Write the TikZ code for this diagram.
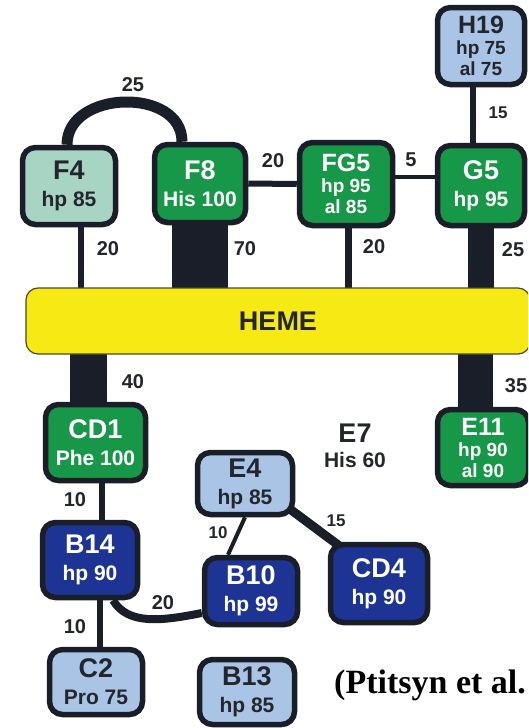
\documentclass[tikz,border=0pt]{standalone}
\usepackage{fontspec}
\setsansfont{Liberation Sans}
\newfontfamily\citefont{Liberation Serif}
\usetikzlibrary{backgrounds}

\definecolor{edgecol}{RGB}{26,30,40}
\definecolor{hbgreen}{RGB}{22,152,72}
\definecolor{paleteal}{RGB}{168,212,196}
\definecolor{paleblue}{RGB}{170,196,230}
\definecolor{deepblue}{RGB}{30,52,148}
\definecolor{hemeyellow}{RGB}{247,233,20}
\definecolor{inkgray}{RGB}{35,38,45}

\newcommand{\hname}[1]{{\fontsize{27}{27}\selectfont #1}}
\newcommand{\hsmall}[1]{{\fontsize{25}{25}\selectfont #1}}

\begin{document}
\begin{tikzpicture}[x=1pt,y=-1pt,
        box/.style={draw=edgecol,line width=5.5pt,rounded corners=13pt,align=center,inner sep=0pt,
            font=\sffamily\bfseries\fontsize{21}{27}\selectfont},
        tall/.style={font=\sffamily\bfseries\fontsize{19}{21}\selectfont},
        greenbox/.style={box,fill=hbgreen,text=white},
        tealbox/.style={box,fill=paleteal,text=inkgray},
        palebox/.style={box,fill=paleblue,text=inkgray},
        bluebox/.style={box,fill=deepblue,text=white},
        link/.style={draw=edgecol,line width=#1},
        num/.style={font=\sffamily\bfseries\fontsize{20}{20}\selectfont,text=inkgray,inner sep=0pt},
        smallnum/.style={num,font=\sffamily\bfseries\fontsize{17}{17}\selectfont}]
        \useasboundingbox (0,0) rectangle (528,728);
        \clip (0,0) rectangle (528,728);

        % heme and the contacts above it
        \node[draw=edgecol!80!yellow,line width=1.2pt,fill=hemeyellow,rounded corners=12pt,
            minimum width=504pt,minimum height=66pt,text=inkgray,
            font=\sffamily\bfseries\fontsize{27}{27}\selectfont] (heme) at (278,321) {HEME};

        \node[tealbox,minimum width=93pt,minimum height=77pt] (F4) at (69,186) {\hname{F4}\\hp 85};
        \node[greenbox,minimum width=91pt,minimum height=78pt] (F8) at (200,183.5) {\hname{F8}\\His 100};
        \node[greenbox,tall,minimum width=93pt,minimum height=83pt] (FG5) at (346,184) {\hsmall{FG5}\\hp 95\\al 85};
        \node[greenbox,minimum width=87pt,minimum height=80pt] (G5) at (481,185.5) {\hname{G5}\\hp 95};
        \node[palebox,tall,minimum width=87pt,minimum height=77pt] (H19) at (481,46) {\hsmall{H19}\\hp 75\\al 75};

        % below the heme
        \node[greenbox,minimum width=100pt,minimum height=76pt] (CD1) at (95.5,442.5) {\hname{CD1}\\Phe 100};
        \node[greenbox,tall,minimum width=91pt,minimum height=76pt] (E11) at (483,447.5) {\hsmall{E11}\\hp 90\\al 90};
        \node[bluebox,minimum width=95pt,minimum height=75pt] (B14) at (90,560) {\hname{B14}\\hp 90};
        \node[palebox,minimum width=93pt,minimum height=65pt] (C2) at (96,682) {\hname{C2}\\Pro 75};
        \node[palebox,minimum width=95pt,minimum height=62pt] (E4) at (245,483.5) {\hname{E4}\\hp 85};
        \node[bluebox,minimum width=93pt,minimum height=67pt] (B10) at (251,591) {\hname{B10}\\hp 99};
        \node[bluebox,minimum width=97pt,minimum height=78pt] (CD4) at (379,583.5) {\hname{CD4}\\hp 90};
        \node[palebox,minimum width=95pt,minimum height=65pt] (B13) at (247,692) {\hname{B13}\\hp 85};

        \node[align=center,inner sep=0pt,text=inkgray,
            font=\sffamily\bfseries\fontsize{21}{25}\selectfont] (E7) at (355,446) {\hname{E7}\\His 60};

        \begin{scope}[on background layer]
            \draw[link=11pt] ([xshift=-2pt]F4.north) .. controls +(0,-55) and +(0,-55) .. ([xshift=-18pt]F8.north);
            \draw[link=6pt] ([xshift=12pt]F4.south) -- ([xshift=12pt]F4.south |- heme.center);
            \draw[link=56pt] (F8.south) -- (F8.south |- heme.center);
            \draw[link=6pt] (F8) -- (FG5);
            \draw[link=4pt] ([yshift=7pt]FG5.center) -- ([yshift=7pt]FG5.center -| G5.center);
            \draw[link=7pt] ([xshift=2pt]FG5.south) -- ([xshift=2pt]FG5.south |- heme.center);
            \draw[link=26pt] (G5.south) -- (G5.south |- heme.center);
            \draw[link=6pt] ([xshift=-8pt]H19.south) -- ([xshift=-8pt]G5.north);
            \draw[link=37pt] ([xshift=-7pt]CD1.north) -- ([xshift=-7pt]CD1.north |- heme.center);
            \draw[link=35pt] ([xshift=-8pt]E11.north) -- ([xshift=-8pt]E11.north |- heme.center);
            \draw[link=6pt] ([xshift=6pt]CD1.south) -- ([xshift=6pt]CD1.south |- B14.center);
            \draw[link=6pt] ([xshift=10pt]B14.south) -- ([xshift=10pt]B14.south |- C2.center);
            \draw[link=8pt] ([xshift=23pt]B14.south) .. controls +(15,25) and +(-40,8) .. ([yshift=-22pt]B10.west);
            \draw[link=4pt] (E4.south) -- ([xshift=-23pt]B10.north);
            \draw[link=9pt] ([yshift=8pt]E4.center) -- ([yshift=8pt]CD4.center);
        \end{scope}

        % contact numbers
        \node[num] (lF4F8) at (133,85) {25};
        \node[num] (lF4) at (108,249) {20};
        \node[num] (lF8) at (245,249) {70};
        \node[num] (lF8FG5) at (273,161) {20};
        \node[num] (lFG5G5) at (411,160) {5};
        \node[num] (lFG5) at (374,247) {20};
        \node[num] (lG5) at (513,250) {25};
        \node[smallnum] (lH19) at (498,113) {15};
        \node[num] (lCD1) at (133,382) {40};
        \node[num] (lE11) at (516,386) {35};
        \node[num] (lCD1B14) at (75,500) {10};
        \node[num] (lB14C2) at (75,627) {10};
        \node[num] (lB14B10) at (163,603) {20};
        \node[smallnum] (lE4B10) at (218,533) {10};
        \node[smallnum] (lE4CD4) at (336,521) {15};

        \node[anchor=base west,inner sep=0pt,
            font=\citefont\bfseries\fontsize{34}{34}\selectfont] (cite) at (334,693) {(Ptitsyn et al.};
    \end{tikzpicture}
\end{document}
